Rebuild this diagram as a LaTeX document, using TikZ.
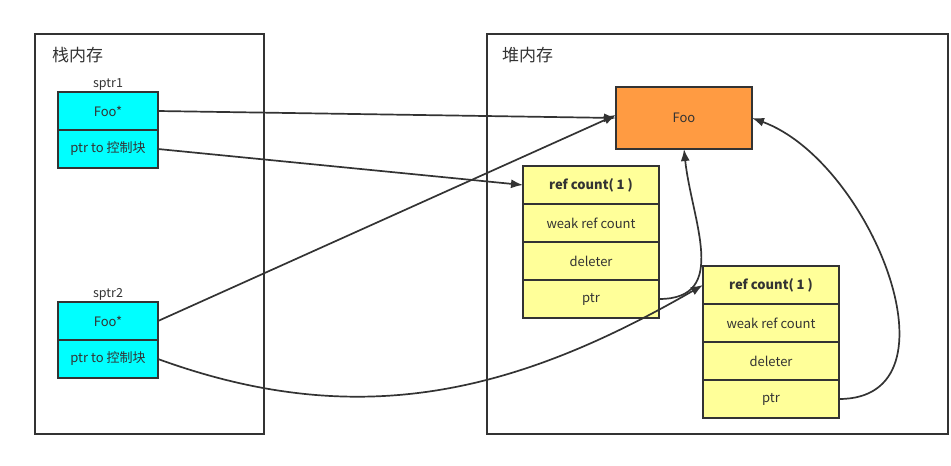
\documentclass[tikz,border=0pt]{standalone}
\usepackage{fontspec}
\setmainfont{Noto Sans CJK SC}
\usetikzlibrary{arrows.meta,positioning}
\definecolor{ink}{HTML}{333333}
\definecolor{ptrcyan}{HTML}{00FFFF}
\definecolor{ctlyellow}{HTML}{FFFF99}
\definecolor{objorange}{HTML}{FF9B42}
\tikzset{
  frame/.style={draw=ink, line width=1.6pt, outer sep=0pt},
  title/.style={text=ink, anchor=west, inner sep=0pt, font=\fontsize{17}{19}\selectfont},
  cell/.style={draw=ink, line width=1.8pt, outer sep=0pt, minimum height=38pt,
               text=ink, font=\fontsize{13}{15}\selectfont},
  ptrcell/.style={cell, fill=ptrcyan, minimum width=100pt},
  ctlcell/.style={cell, fill=ctlyellow, minimum width=136pt},
  objbox/.style={cell, fill=objorange, minimum width=136pt, minimum height=62pt},
  varname/.style={text=ink, inner sep=1pt, font=\fontsize{12.5}{14}\selectfont},
  link/.style={->, draw=ink, line width=1.7pt}
}

\begin{document}
\begin{tikzpicture}[x=1pt, y=-1pt, >={Latex[length=12pt,width=9pt]}]
        \useasboundingbox (0,0) rectangle (951,466);

        % --- Memory areas
        \node[frame, minimum width=229pt, minimum height=400pt] (stack) at (149.5,234) {};
        \node[frame, minimum width=461pt, minimum height=400pt] (heap) at (717.5,234) {};
        \node[title] (stacktitle) at (52,55) {栈内存};
        \node[title] (heaptitle) at (502,55) {堆内存};

        % --- sptr1
        \node[ptrcell] (s1obj) at (108,111) {Foo*};
        \node[ptrcell, below=0pt of s1obj] (s1ctl) {ptr to 控制块};
        \node[varname, above=0pt of s1obj] (sptr1) {sptr1};

        % --- sptr2
        \node[ptrcell] (s2obj) at (108,321) {Foo*};
        \node[ptrcell, below=0pt of s2obj] (s2ctl) {ptr to 控制块};
        \node[varname, above=0pt of s2obj] (sptr2) {sptr2};

        % --- Foo object
        \node[objbox] (foo) at (684,118) {Foo};

        % --- Control block 1
        \node[ctlcell] (c1ref) at (591,185) {\bfseries ref count( 1 )};
        \node[ctlcell, below=0pt of c1ref] (c1weak) {weak ref count};
        \node[ctlcell, below=0pt of c1weak] (c1del) {deleter};
        \node[ctlcell, below=0pt of c1del] (c1ptr) {ptr};

        % --- Control block 2
        \node[ctlcell] (c2ref) at (771,285) {\bfseries ref count( 1 )};
        \node[ctlcell, below=0pt of c2ref] (c2weak) {weak ref count};
        \node[ctlcell, below=0pt of c2weak] (c2del) {deleter};
        \node[ctlcell, below=0pt of c2del] (c2ptr) {ptr};

        % --- Pointers from the stack
        \draw[link] (s1obj.east) -- (foo.west);
        \draw[link] (s1ctl.east) -- (c1ref.west);
        \draw[link] (s2obj.east) -- ([yshift=3pt]foo.west);
        \draw[link] (s2ctl.east) to[out=-20, in=210] (c2ref.west);

        % --- Pointers from the control blocks
        \draw[link] (c1ptr.east) to[out=0, in=-84, looseness=1.2] (foo.south);
        \draw[link] (c2ptr.east) to[out=0, in=-20, looseness=1.1] (foo.east);

        \end{tikzpicture}
\end{document}
